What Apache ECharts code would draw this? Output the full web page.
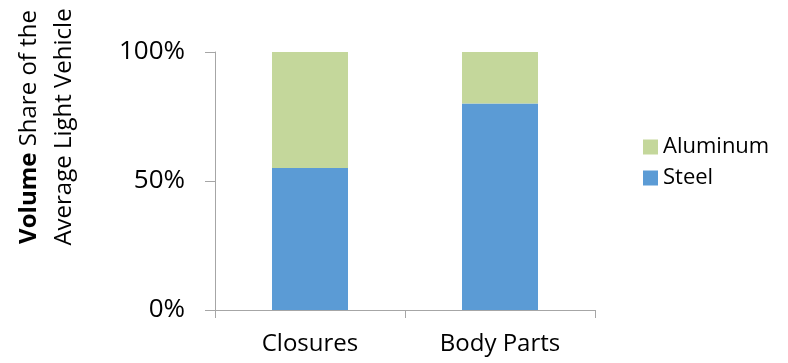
<!DOCTYPE html>
<html>
<head>
<meta charset="utf-8">
<script src="https://cdn.jsdelivr.net/npm/echarts@6/dist/echarts.min.js"></script>
<style>
  html, body { margin: 0; padding: 0; background: #fff; }
  #chart { width: 788px; height: 363px; }
</style>
</head>
<body>
<div id="chart"></div>
<script>
// Material share by component group (percent of volume)
const categories = ['Closures', 'Body Parts'];
const steelShare = [55, 80];
const aluminumShare = [45, 20];
const yTicks = [0, 50, 100];

const FONT = '"Open Sans", sans-serif';
const AXIS_GREY = '#A6A6A6';

const chart = echarts.init(document.getElementById('chart'), null, { renderer: 'canvas' });

chart.setOption({
  animation: false,
  backgroundColor: '#ffffff',
  grid: { left: 215, right: 193, top: 52, bottom: 53, containLabel: false },
  legend: {
    orient: 'vertical',
    left: 638,
    top: 131,
    itemWidth: 15,
    itemHeight: 15,
    itemGap: 9,
    icon: 'rect',
    data: ['Aluminum', 'Steel'],
    textStyle: { fontFamily: FONT, fontSize: 22, color: '#000' }
  },
  xAxis: {
    type: 'category',
    data: categories,
    boundaryGap: true,
    axisLine: { lineStyle: { color: AXIS_GREY, width: 1 } },
    axisTick: { show: true, length: 8, lineStyle: { color: AXIS_GREY } },
    axisLabel: { fontFamily: FONT, fontSize: 24, color: '#000', margin: 22 }
  },
  yAxis: {
    type: 'value',
    min: yTicks[0],
    max: yTicks[yTicks.length - 1],
    interval: yTicks[1] - yTicks[0],
    axisLine: { show: true, lineStyle: { color: AXIS_GREY, width: 1 } },
    axisTick: { show: true, inside: false, length: 10, lineStyle: { color: AXIS_GREY } },
    splitLine: { show: false },
    axisLabel: { fontFamily: FONT, fontSize: 26, color: '#000', margin: 30, formatter: '{value}%' }
  },
  graphic: [{
    type: 'text',
    x: 47,
    y: 127,
    rotation: Math.PI / 2,
    style: {
      text: '{b|Volume} Share of the\nAverage Light Vehicle',
      fontFamily: FONT,
      fontSize: 24,
      lineHeight: 35,
      fill: '#000',
      align: 'center',
      verticalAlign: 'middle',
      rich: {
        b: { fontFamily: FONT, fontSize: 24, fontWeight: 'bold', fill: '#000', lineHeight: 35 }
      }
    }
  }],
  series: [
    {
      name: 'Steel',
      type: 'bar',
      stack: 'share',
      barWidth: '40%',
      data: steelShare,
      itemStyle: { color: '#5B9BD5' }
    },
    {
      name: 'Aluminum',
      type: 'bar',
      stack: 'share',
      barWidth: '40%',
      data: aluminumShare,
      itemStyle: { color: '#C4D79B' }
    }
  ]
});
</script>
</body>
</html>
